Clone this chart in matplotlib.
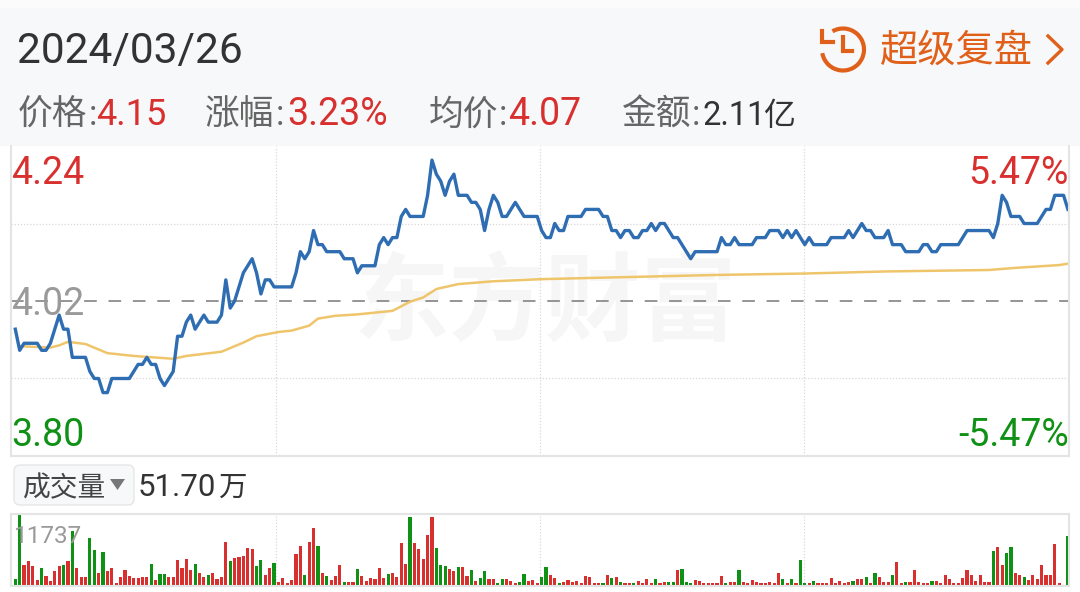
import numpy as np
import matplotlib
matplotlib.use('Agg')
import matplotlib.pyplot as plt
from matplotlib.patches import Arc, FancyBboxPatch, Rectangle

# intraday price, one value per minute
price_1 = [3.98, 3.95, 3.96, 3.96, 3.96, 3.96, 3.95, 3.95, 3.96, 3.98, 4.00, 3.98, 3.98, 3.94, 3.94, 3.94, 3.94, 3.92, 3.91, 3.91,
           3.89, 3.89, 3.91, 3.91, 3.91, 3.91, 3.91, 3.92, 3.93, 3.93, 3.94, 3.93, 3.93, 3.91, 3.90, 3.91, 3.92, 3.97, 3.97, 3.99,
           4.00, 3.98, 3.99, 4.00, 3.99, 3.99, 3.99, 4.00, 4.05, 4.01, 4.02, 4.04, 4.06, 4.07, 4.08, 4.06, 4.03, 4.05, 4.05, 4.04,
           4.04, 4.04, 4.04, 4.04, 4.06, 4.09, 4.08, 4.09, 4.12, 4.10, 4.10, 4.09, 4.09, 4.09, 4.09, 4.08, 4.08, 4.08, 4.06, 4.07]
price_2 = [4.07, 4.07, 4.07, 4.10, 4.11, 4.10, 4.11, 4.11, 4.14, 4.15, 4.14, 4.14, 4.14, 4.14, 4.17, 4.22, 4.20, 4.19, 4.17, 4.19,
           4.20, 4.17, 4.17, 4.17, 4.16, 4.16, 4.15, 4.12, 4.15, 4.17, 4.16, 4.14, 4.14, 4.15, 4.16, 4.15, 4.14, 4.14, 4.14, 4.14,
           4.12, 4.11, 4.11, 4.13, 4.12, 4.12, 4.14, 4.14, 4.14, 4.14, 4.15, 4.15, 4.15, 4.15, 4.14, 4.14, 4.12, 4.12, 4.11, 4.12,
           4.12, 4.11, 4.11, 4.12, 4.12, 4.13, 4.12, 4.13, 4.13, 4.12, 4.11, 4.11, 4.10, 4.09, 4.08, 4.09, 4.09, 4.09, 4.09, 4.09]
price_3 = [4.09, 4.11, 4.10, 4.10, 4.11, 4.10, 4.10, 4.10, 4.10, 4.11, 4.11, 4.11, 4.12, 4.12, 4.12, 4.11, 4.12, 4.11, 4.12, 4.11,
           4.10, 4.11, 4.10, 4.10, 4.10, 4.10, 4.11, 4.11, 4.11, 4.11, 4.12, 4.11, 4.12, 4.13, 4.12, 4.12, 4.11, 4.11, 4.11, 4.12,
           4.10, 4.10, 4.10, 4.09, 4.09, 4.09, 4.09, 4.10, 4.10, 4.09, 4.09, 4.10, 4.10, 4.10, 4.10, 4.10, 4.11, 4.12, 4.12, 4.12,
           4.12, 4.12, 4.12, 4.11, 4.13, 4.17, 4.16, 4.14, 4.14, 4.14, 4.13, 4.13, 4.13, 4.13, 4.14, 4.15, 4.15, 4.17, 4.17, 4.17, 4.15]
price = price_1 + price_2 + price_3

# average price, read at the bends of the line
avg_minute = [1, 4, 8, 10, 12, 16, 21, 27, 36, 39, 47, 52, 55, 60, 63, 67, 69, 73, 78, 86, 90, 93, 96, 101, 109, 120, 133, 160, 180, 199, 222, 228, 238, 240]
avg_price = [3.956, 3.955, 3.954, 3.957, 3.962, 3.959, 3.946, 3.942, 3.938, 3.942, 3.948, 3.961, 3.970, 3.976, 3.978, 3.985, 3.995, 3.999, 4.001,
             4.006, 4.019, 4.025, 4.037, 4.044, 4.048, 4.051, 4.053, 4.057, 4.059, 4.062, 4.064, 4.067, 4.071, 4.073]

volume = [1080, 11737, 3348, 3996, 3294, 972, 2970, 1566, 810, 2430, 3240, 3402, 3996, 8964, 2862, 1404, 1404, 7830, 5832, 2160,
          5508, 2430, 2916, 486, 1404, 2592, 1620, 1296, 1296, 1458, 1458, 3510, 1026, 1944, 1944, 1458, 1458, 4212, 2862, 4374,
          2592, 3510, 2160, 1404, 1728, 2160, 1080, 1404, 7182, 3996, 4536, 4752, 4860, 6210, 6048, 3240, 4158, 1728, 2916, 3726,
          594, 1296, 486, 1026, 5184, 6480, 1836, 7236, 9396, 6480, 2106, 1620, 918, 1620, 3348, 594, 594, 594, 2700, 1566,
          756, 1296, 1188, 2916, 1242, 1944, 2160, 1458, 7074, 3510, 11232, 7074, 6102, 4374, 8262, 11286, 6210, 3402, 3186, 2754,
          2376, 3132, 3024, 1620, 2592, 756, 1242, 2376, 1080, 1188, 486, 1134, 1134, 756, 486, 648, 1890, 810, 972, 486,
          1458, 3024, 1728, 1350, 486, 594, 972, 648, 810, 540, 1620, 1404, 486, 486, 486, 1782, 1296, 1512, 594, 486,
          486, 486, 810, 486, 1080, 540, 1188, 486, 594, 648, 594, 2592, 2700, 594, 432, 972, 810, 486, 486, 486,
          486, 1620, 432, 648, 594, 2592, 702, 486, 1026, 702, 486, 486, 594, 540, 2160, 1134, 486, 1080, 486, 4158,
          486, 486, 756, 486, 486, 486, 1242, 486, 864, 486, 648, 864, 1080, 1080, 1404, 486, 2106, 1404, 702, 594,
          1728, 3834, 432, 648, 702, 2592, 702, 486, 486, 810, 756, 486, 1728, 1080, 486, 486, 1296, 2592, 1836, 756,
          1728, 648, 648, 5670, 6426, 3402, 5346, 6372, 2160, 1782, 1404, 972, 1836, 1134, 3456, 1836, 1836, 6912, 486, 0, 8154]

# r = up minute, g = down minute
direction = ("ggrrrrgrrr" "rgrgrrrggr" "grrrrrrrrr" "rgrggrrrrr" "rgrrgrrrrg" "rrrrrggrrg"
             "rrrrrrgrrg" "rgrrrgrrgr" "rrrrrgrrrr" "grrrrrgggr" "rgrrgrggrr" "ggrrrggrrr"
             "ggrrgrrrrr" "rrrrgrgrgr" "rgrrrrgrrg" "grgggrrrrr" "rrgrrgrrrr" "rrrrrgrgrg"
             "grgrrrrrrr" "rgrrgrgrrr" "grrgrrrrrg" "rrrrrrrrrr" "rrrgrrggrr" "grrrrrrrrr" "g")

RED = '#d8302f'
GREEN = '#0e9114'
BLUE = '#2f6db3'
YELLOW = '#efc56c'
GRID = '#d8d8d8'
ORANGE = '#e0601a'
FONT = ['Roboto', 'Noto Sans CJK SC', 'DejaVu Sans']
CJK = ['Noto Sans CJK SC', 'DejaVu Sans']

W, H = 1080, 592
fig = plt.figure(figsize=(W / 100, H / 100), dpi=100, facecolor='white')

# page axes in pixel coordinates, for the header and the frame
page = fig.add_axes([0, 0, 1, 1], zorder=0)
page.set_xlim(0, W)
page.set_ylim(H, 0)
page.axis('off')


def panel(left, right, top, bottom):
    return fig.add_axes([left / W, 1 - bottom / H, (right - left) / W, (bottom - top) / H], zorder=1)


page.add_patch(Rectangle((0, 0), W, 8, color='#fbfbfc', lw=0))
page.add_patch(Rectangle((0, 8), W, 138, color='#f7f8fa', lw=0))


def label(x, y, s, color, size=27, family=FONT, **kw):
    page.text(x, y, s, color=color, fontsize=size, family=family, va='baseline', **kw)


label(17, 63, '2024/03/26', '#333333', size=30.5)

label(18, 125, '价格', '#666666', family=CJK, size=25)
label(89, 125, ':', '#666666', size=25)
label(96, 125, '4.15', RED, size=26)
label(205, 125, '涨幅', '#666666', family=CJK, size=25)
label(276, 125, ':', '#666666', size=25)
label(287, 125, '3.23%', RED)
label(429, 125, '均价', '#666666', family=CJK, size=25)
label(499, 125, ':', '#666666', size=25)
label(508, 125, '4.07', RED)
label(622, 125, '金额', '#666666', family=CJK, size=25)
label(692, 125, ':', '#666666', size=25)
label(702, 125, '2.11', '#333333', size=23.5)
label(763, 125, '亿', '#333333', family=CJK, size=23)

# history icon, arrow and chevron
page.add_patch(Arc((843, 49.5), 42, 42, theta1=240, theta2=530, color=ORANGE, lw=3))
page.plot([822, 822, 833], [31, 42, 42], color=ORANGE, lw=3, solid_joinstyle='miter')
page.plot([843, 843, 852], [37, 51, 51], color=ORANGE, lw=3, solid_joinstyle='miter')
label(880, 62, '超级复盘', ORANGE, family=CJK, size=27.5)
page.plot([1048, 1062, 1048], [36, 49.5, 63], color=ORANGE, lw=2.4)

# watermark
page.text(545, 305, '东方财富', color='#f6f6f6', fontsize=69, family=CJK, weight='bold', ha='center', va='center')

# price panel
ax = panel(11, 1069, 146, 456)
ax.patch.set_alpha(0)
minutes = np.arange(len(price))
ax.set_xlim(-0.98, 240.24)
ax.set_ylim(3.80, 4.24)
for f in [0.25, 0.5, 0.75]:
    ax.axvline(ax.get_xlim()[0] + f * (ax.get_xlim()[1] - ax.get_xlim()[0]), color=GRID, lw=0.9, ls=(0, (1, 1.5)))
ax.axhline(4.13, color=GRID, lw=0.9, ls=(0, (1, 1.5)))
ax.axhline(3.91, color=GRID, lw=0.9, ls=(0, (1, 1.5)))
ax.axhline(4.02, color='#8c8c8c', lw=1.3, ls=(0, (7, 6.5)))
ax.plot(avg_minute, avg_price, color=YELLOW, lw=1.8)
ax.plot(minutes, price, color=BLUE, lw=2.4, solid_joinstyle='round')
ax.set_xticks([])
ax.set_yticks([])
for side in ['top', 'bottom', 'left', 'right']:
    ax.spines[side].set_color('#e4e4e4')
    ax.spines[side].set_linewidth(1.5)
ax.spines['top'].set_visible(False)

t_kw = dict(fontsize=27, family=FONT, transform=page.transData, zorder=5)
ax.text(11, 184, '4.24', color=RED, **t_kw)
ax.text(11, 315, '4.02', color='#9a9a9a', **t_kw)
ax.text(11, 446, '3.80', color=GREEN, **t_kw)
ax.text(1069, 184, '5.47%', color=RED, ha='right', **t_kw)
ax.text(1069, 446, '-5.47%', color=GREEN, ha='right', **t_kw)

# volume selector
page.add_patch(FancyBboxPatch((17, 468), 114, 34, boxstyle='round,pad=3,rounding_size=6',
                              fc='#f7f8fa', ec='#e6e6e6', lw=1))
label(23, 496, '成交量', '#444444', family=CJK, size=20)
page.fill([110, 125, 117.5], [479, 479, 490], color='#777777', lw=0)
label(138, 496, '51.70', '#333333', size=22.5)
label(218, 496, '万', '#333333', family=CJK, size=20.5)

# volume panel
ax_v = panel(11, 1069, 514, 586)
ax_v.patch.set_alpha(0)
bar_colors = [RED if d == 'r' else GREEN for d in direction]
ax_v.bar(minutes, volume, width=0.72, color=bar_colors, lw=0)
ax_v.set_xlim(-0.98, 240.24)
ax_v.set_ylim(0, 11737)
for f in [0.25, 0.5, 0.75]:
    ax_v.axvline(ax_v.get_xlim()[0] + f * (ax_v.get_xlim()[1] - ax_v.get_xlim()[0]), color=GRID, lw=0.9, ls=(0, (1, 1.5)), zorder=0)
ax_v.set_xticks([])
ax_v.set_yticks([])
for side in ['top', 'bottom', 'left', 'right']:
    ax_v.spines[side].set_color('#e4e4e4')
    ax_v.spines[side].set_linewidth(1.5)
ax_v.text(14, 543, '11737', color='#9a9a9a', fontsize=17.5, family=FONT, transform=page.transData, zorder=5)

fig.savefig('out.png', dpi=100)
